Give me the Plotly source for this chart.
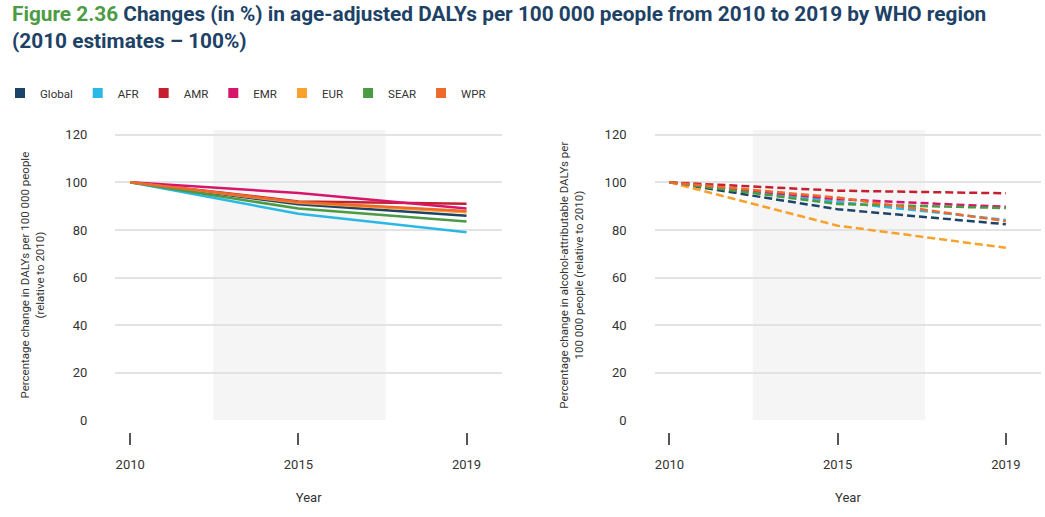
import plotly.graph_objects as go

# ---- data ----
years = ["2010", "2015", "2019"]
regions = ["Global", "AFR", "AMR", "EMR", "EUR", "SEAR", "WPR"]

# all-cause age-adjusted DALYs, % of 2010
dalys_global = [100, 90.8, 86.0]
dalys_afr = [100, 86.8, 79.0]
dalys_amr = [100, 92.0, 91.0]
dalys_emr = [100, 95.5, 89.0]
dalys_eur = [100, 91.4, 87.4]
dalys_sear = [100, 89.0, 83.5]
dalys_wpr = [100, 91.7, 88.0]

# alcohol-attributable DALYs, % of 2010
alc_global = [100, 88.7, 82.4]
alc_afr = [100, 91.8, 84.2]
alc_amr = [100, 96.5, 95.4]
alc_emr = [100, 92.9, 89.7]
alc_eur = [100, 81.8, 72.5]
alc_sear = [100, 90.9, 89.2]
alc_wpr = [100, 93.6, 83.7]

left_series = [dalys_global, dalys_afr, dalys_amr, dalys_emr, dalys_eur, dalys_sear, dalys_wpr]
right_series = [alc_global, alc_afr, alc_amr, alc_emr, alc_eur, alc_sear, alc_wpr]

colors = ["#1c4468", "#2bb8e4", "#c4202f", "#d6166b", "#f8a12b", "#4b9b44", "#ee6a2c"]

y_ticks = [0, 20, 40, 60, 80, 100, 120]

FONT = "Roboto, Liberation Sans, Arial, sans-serif"
W, H = 1045, 517

fig = go.Figure()
xpos = list(range(len(years)))

for name, ys, c in zip(regions, left_series, colors):
    fig.add_trace(go.Scatter(x=xpos, y=ys, mode="lines", name=name, showlegend=False,
                             line=dict(color=c, width=2.5), xaxis="x", yaxis="y",
                             hoverinfo="skip"))
for name, ys, c in zip(regions, right_series, colors):
    fig.add_trace(go.Scatter(x=xpos, y=ys, mode="lines", name=name, showlegend=False,
                             line=dict(color=c, width=2.5, dash="8px,4px"), xaxis="x2", yaxis="y2",
                             hoverinfo="skip"))
# legend entries (square swatches)
for name, c in zip(regions, colors):
    fig.add_trace(go.Scatter(x=[None], y=[None], mode="markers", name=name,
                             marker=dict(symbol="square", size=10, color=c),
                             xaxis="x", yaxis="y"))

# shaded band around the middle category
for xr, yr in (("x", "y"), ("x2", "y2")):
    fig.add_shape(type="rect", xref=xr, yref=yr, x0=0.495, x1=1.52, y0=0, y1=122,
                  fillcolor="#f5f5f5", line=dict(width=0), layer="below")

plot_bottom = 1 - 420.3 / H
plot_top = 1 - 130 / H
xaxis_pos = 1 - 432 / H

xcommon = dict(range=[-15 / 168.8, 2 + 35.7 / 168.8], tickvals=xpos, ticktext=years,
               showgrid=False, zeroline=False, showline=False,
               ticks="outside", ticklen=12, tickwidth=1.5, tickcolor="#555555",
               ticklabelstandoff=8,
               tickfont=dict(family=FONT, size=13, color="#333333"),
               title=dict(text="Year", font=dict(family=FONT, size=13, color="#333333"), standoff=22),
               anchor="free", position=xaxis_pos, automargin=False, fixedrange=True)
ycommon = dict(range=[0, 122], tickvals=y_ticks, showgrid=True, gridcolor="#e3e3e3", gridwidth=1.5,
               zeroline=False, showline=False, ticks="", ticklabelstandoff=27,
               tickfont=dict(family=FONT, size=13, color="#333333"),
               automargin=False, fixedrange=True)

fig.update_layout(
    width=W, height=H,
    margin=dict(l=0, r=0, t=0, b=0),
    paper_bgcolor="white", plot_bgcolor="white",
    template="none",
    font=dict(family=FONT, color="#333333"),
    title=dict(
        text="<span style='color:#4d9b45'>Figure 2.36</span> Changes (in %) in age-adjusted DALYs per 100 000 people from 2010 to 2019 by WHO region<br>(2010 estimates \u2013 100%)",
        x=12 / W, xanchor="left", xref="container",
        y=1 - 21 / H, yanchor="top", yref="container",
        font=dict(family=FONT, size=20.8, color="#1d4266", weight="bold"),
    ),
    legend=dict(orientation="h", x=-0.004, xanchor="left", y=1 - 93 / H, yanchor="middle",
                font=dict(family=FONT, size=11.5, color="#333333"), bgcolor="rgba(0,0,0,0)",
                itemclick=False, itemdoubleclick=False),
    xaxis=dict(domain=[111.7 / W, 500 / W], **xcommon),
    xaxis2=dict(domain=[653 / W, 1041.4 / W], **xcommon),
    yaxis=dict(domain=[plot_bottom, plot_top], anchor="x",
               title=dict(text="Percentage change in DALYs per 100 000 people<br>(relative to 2010)",
                          font=dict(family=FONT, size=11.5, color="#333333"), standoff=18),
               **ycommon),
    yaxis2=dict(domain=[plot_bottom, plot_top], anchor="x2",
                title=dict(text="Percentage change in alcohol-attributable DALYs per<br>100 000 people (relative to 2010)",
                           font=dict(family=FONT, size=11.5, color="#333333"), standoff=18),
                **ycommon),
    showlegend=True,
)

fig.write_html("out.html")
